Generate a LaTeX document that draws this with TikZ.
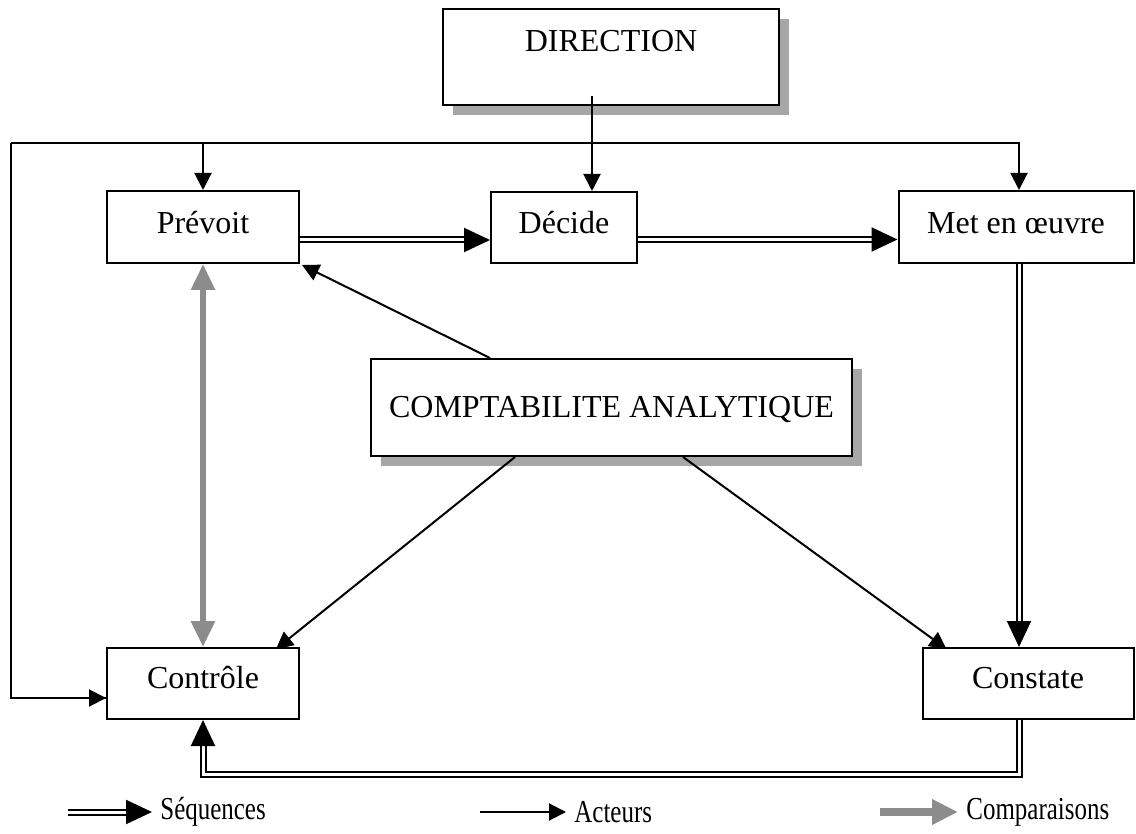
\documentclass[tikz,border=0pt]{standalone}
\usepackage{fontspec}
\usepackage{graphicx}
\setmainfont{Liberation Serif}
\usetikzlibrary{arrows.meta,shadows}
\definecolor{compgray}{RGB}{140,140,140}
\newcommand{\legword}[1]{\scalebox{0.78}[1]{#1}}
\tikzset{
  box/.style={draw, line width=1pt, fill=white, text height=11pt, text depth=4.5pt,
    inner sep=0pt, font=\fontsize{16}{19}\selectfont},
  bigbox/.style={box, drop shadow={opacity=1, fill=black!35, shadow xshift=5pt, shadow yshift=-5pt}},
  legtext/.style={anchor=west, inner sep=4pt, font=\fontsize{16}{19}\selectfont},
  seq/.style={double, double distance=1.5pt, line width=1pt, -{Triangle[length=13pt,width=12pt]}},
  acteur/.style={line width=1pt, -{Triangle[length=8.5pt,width=8.5pt]}},
  comp/.style={compgray, line width=3pt, {Triangle[length=13pt,width=11.5pt]}-{Triangle[length=13pt,width=11.5pt]}}
}
\begin{document}
\begin{tikzpicture}[x=0.5pt, y=-0.5pt]
\useasboundingbox (0,0) rectangle (1136,834);

% boxes
\node[bigbox, minimum width=168pt, minimum height=48pt, text depth=16pt] (dir) at (611,57) {DIRECTION};
\node[bigbox, minimum width=240.5pt, minimum height=48.5pt, text depth=1pt] (ca) at (611.5,407.5) {COMPTABILITE ANALYTIQUE};
\node[box, minimum width=96pt, minimum height=36pt] (prev) at (203,227) {Prévoit};
\node[box, minimum width=73pt, minimum height=35.5pt] (dec) at (564,227.5) {Décide};
\node[box, minimum width=117.5pt, minimum height=36pt] (met) at (1016,227) {Met en œuvre};
\node[box, minimum width=96pt, minimum height=35.5pt, text depth=6pt] (ctl) at (203,683.5) {Contrôle};
\node[box, minimum width=105.5pt, minimum height=35.5pt, text depth=6pt] (cst) at (1028,683.5) {Constate};

% sequences
\draw[seq] ([yshift=-6.5pt]prev.east) -- ([yshift=-6.5pt]prev.east -| dec.west);
\draw[seq] ([yshift=-6pt]dec.east) -- ([yshift=-6pt]dec.east -| met.west);
\draw[seq] ([xshift=1.5pt]met.south) -- ([xshift=1.5pt]met.south |- cst.north);
\draw[seq] ([xshift=1.5pt]met.south |- cst.south) -- ++(0,54) -| (ctl.south);

% comparaisons
\draw[comp] (prev.south) -- (ctl.north);

% acteurs
\coordinate (lp) at (11,143);
\draw[line width=1pt] (lp) |- ([yshift=-7.25pt]ctl.west);
\draw[acteur] ([xshift=-5pt]ctl.west |- 0,698) -- ([yshift=-7.25pt]ctl.west);
\draw[acteur] (lp) -| ([xshift=1.5pt]met.north);
\draw[acteur] (lp -| prev.north) -- (prev.north);
\draw[acteur] ([xshift=-9.5pt,yshift=5pt]dir.south) coordinate (d0) -- (d0 |- dec.north);
\draw[acteur] ([xshift=-60.75pt]ca.north) -- ([xshift=1pt,yshift=-0.5pt]prev.south east);
\draw[acteur] ([xshift=-48.25pt]ca.south) -- ([xshift=-12pt,yshift=-1pt]ctl.north east);
\draw[acteur] ([xshift=35.75pt]ca.south) -- ([xshift=12.5pt,yshift=-1pt]cst.north west);

% legende
\node[legtext] (lseq) at (152,812) {\legword{Séquences}};
\coordinate (lseq0) at (68,812);
\draw[seq] (lseq0) -- (lseq.west);
\node[legtext] (lact) at (566,812) {\legword{Acteurs}};
\coordinate (lact0) at (480,812);
\draw[acteur] (lact0) -- (lact.west);
\node[legtext] (lcmp) at (958,812) {\legword{Comparaisons}};
\coordinate (lcmp0) at (880,812);
\draw[compgray, line width=4pt, -{Triangle[length=13pt,width=12pt]}] (lcmp0) -- (lcmp.west);
\end{tikzpicture}
\end{document}
